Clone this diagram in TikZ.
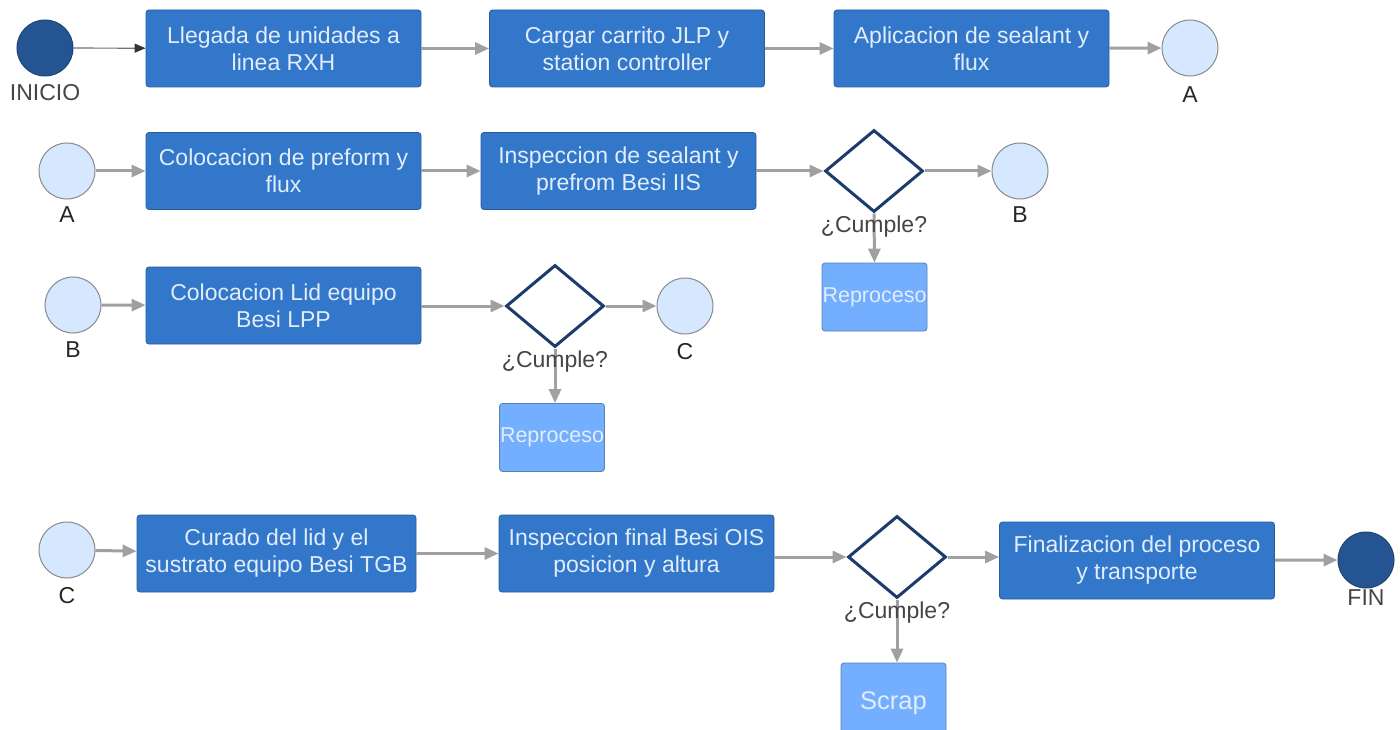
\documentclass[tikz,border=0pt]{standalone}
\usepackage{fontspec}
\setmainfont{Liberation Sans}
\usetikzlibrary{shapes.geometric,arrows.meta}

\definecolor{procfill}{HTML}{3277CA}
\definecolor{procedge}{HTML}{2A5C98}
\definecolor{proctext}{HTML}{E2EDFB}
\definecolor{linkfill}{HTML}{D6E8FF}
\definecolor{linkedge}{HTML}{8A8A8A}
\definecolor{termfill}{HTML}{245592}
\definecolor{termedge}{HTML}{1F4575}
\definecolor{decedge}{HTML}{1C3C6C}
\definecolor{altfill}{HTML}{74AFFF}
\definecolor{altedge}{HTML}{5B7FAE}
\definecolor{flow}{HTML}{A0A0A0}
\definecolor{labeltext}{HTML}{454545}

\tikzset{
  procbox/.style={rectangle, rounded corners=3pt, fill=procfill, draw=procedge,
    line width=0.8pt, text=proctext, minimum width=275pt, minimum height=77pt,
    align=center, font=\fontsize{23}{27}\selectfont, inner sep=2pt},
  altbox/.style={rectangle, rounded corners=3pt, fill=altfill, draw=altedge,
    line width=0.8pt, text=proctext, minimum width=105pt, minimum height=68pt,
    align=center, font=\fontsize{21.5}{24}\selectfont, inner sep=0pt},
  linkdot/.style={circle, fill=linkfill, draw=linkedge, line width=1pt,
    minimum size=56pt, inner sep=0pt},
  termdot/.style={circle, fill=termfill, draw=termedge, line width=1pt,
    minimum size=56pt, inner sep=0pt},
  decision/.style={diamond, draw=decedge, fill=white, line width=3pt,
    minimum width=98pt, minimum height=82pt, inner sep=0pt},
  caption/.style={text=labeltext, font=\fontsize{23}{26}\selectfont, inner sep=0pt},
  letter/.style={text=black!85, font=\fontsize{23}{26}\selectfont, inner sep=0pt},
  flowline/.style={draw=flow, line width=3pt, -{Triangle[length=14pt,width=12pt]}},
  startline/.style={draw=black!55, line width=1.2pt,
    -{Triangle[length=11pt,width=9pt,color=black!80]}},
}

\begin{document}
\begin{tikzpicture}[x=1pt,y=-1pt]
\useasboundingbox[fill=white] (0,0) rectangle (1400,730);

% first row
\node[termdot] (ini) at (45,48) {};
\node[caption] at (45,93) {INICIO};
\node[procbox] (p1) at (283.5,48.5) {Llegada de unidades a\\linea RXH};
\node[procbox] (p2) at (627,48.5) {Cargar carrito JLP y\\station controller};
\node[procbox] (p3) at (971.5,48.5) {Aplicacion de sealant y\\flux};
\node[linkdot] (a1) at (1190,48) {};
\node[letter] at (1190,95) {A};

\draw[startline] (ini) -- (p1);
\draw[flowline] (p1) -- (p2);
\draw[flowline] (p2) -- (p3);
\draw[flowline] (p3) -- (a1);

% second row
\node[linkdot] (a2) at (67,171) {};
\node[letter] at (67,215) {A};
\node[procbox] (p4) at (283.5,171) {Colocacion de preform y\\flux};
\node[procbox] (p5) at (618.5,171) {Inspeccion de sealant y\\prefrom Besi IIS};
\node[decision] (d1) at (874,171) {};
\node[linkdot] (b1) at (1020,171) {};
\node[letter] at (1020,215) {B};
\node[altbox] (r1) at (874.5,297) {Reproceso};

\draw[flowline] (a2) -- (p4);
\draw[flowline] (p4) -- (p5);
\draw[flowline] (p5) -- (d1);
\draw[flowline] (d1) -- (b1);
\draw[flowline] (d1.south) -- (r1.north);
\node[caption] at (874,227) {¿Cumple?};

% third row
\node[linkdot] (b2) at (73,305) {};
\node[letter] at (73,350) {B};
\node[procbox] (p6) at (283.5,305.5) {Colocacion Lid equipo\\Besi LPP};
\node[decision] (d2) at (555,306) {};
\node[linkdot] (c1) at (685,306) {};
\node[letter] at (685,352) {C};
\node[altbox] (r2) at (552,437.5) {Reproceso};

\draw[flowline] (b2) -- (p6);
\draw[flowline] (p6.east |- d2) -- (d2);
\draw[flowline] (d2) -- (c1);
\draw[flowline] (d2.south) -- (d2.south |- r2.north);
\node[caption] at (555,362) {¿Cumple?};

% fourth row
\node[linkdot] (c2) at (67,550) {};
\node[letter] at (67,596) {C};
\node[procbox, minimum width=279pt] (p7) at (276.5,553.5) {Curado del lid y el\\sustrato equipo Besi TGB};
\node[procbox] (p8) at (636.5,553.5) {Inspeccion final Besi OIS\\posicion y altura};
\node[decision] (d3) at (897,557) {};
\node[procbox] (p9) at (1137,560.5) {Finalizacion del proceso\\y transporte};
\node[termdot] (fin) at (1366,560) {};
\node[caption] at (1366,598) {FIN};
\node[altbox, minimum height=84pt, font=\fontsize{25.5}{28}\selectfont] (sc) at (893.5,705) {\raisebox{8pt}{Scrap}};

\draw[flowline] (c2) -- (p7);
\draw[flowline] (p7) -- (p8);
\draw[flowline] (p8.east |- d3) -- (d3);
\draw[flowline] (d3) -- (d3 -| p9.west);
\draw[flowline] (p9) -- (fin);
\draw[flowline] (d3.south) -- (d3.south |- sc.north);
\node[caption] at (897,613) {¿Cumple?};
\end{tikzpicture}
\end{document}
